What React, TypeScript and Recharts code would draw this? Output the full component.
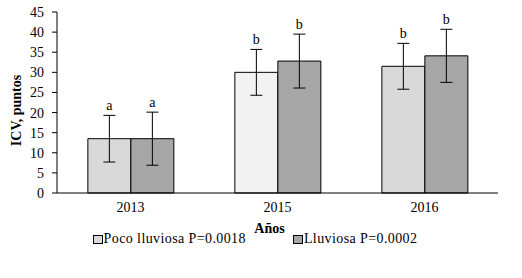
import React from "react";
import {
  BarChart,
  Bar,
  XAxis,
  YAxis,
  ErrorBar,
  Cell,
  LabelList,
  Legend,
  Label,
} from "recharts";

const years = ["2013", "2015", "2016"];
const pocoValues = [13.5, 30.0, 31.5];
const pocoErrors = [5.8, 5.7, 5.7];
const pocoLetters = ["a", "b", "b"];
const pocoFills = ["#D9D9D9", "#F2F2F2", "#D9D9D9"];
const lluviosaValues = [13.5, 32.8, 34.1];
const lluviosaErrors = [6.6, 6.7, 6.6];
const lluviosaLetters = ["a", "b", "b"];
const yTicks = [0, 5, 10, 15, 20, 25, 30, 35, 40, 45];
const edgeTicks = [0, 1, 2, 3];

const font = "'Liberation Serif', 'Times New Roman', serif";

const chartData = years.map((year, i) => ({
  year,
  poco: pocoValues[i],
  pocoErr: pocoErrors[i],
  lluviosa: lluviosaValues[i],
  lluviosaErr: lluviosaErrors[i],
}));

// letter sits just above the error bar cap
const letterLabel = (letters: string[], errors: number[]) => (props: any) => {
  const { x, y, width, height, index, value } = props;
  const pxPerUnit = value ? height / value : 0;
  const top = y - errors[index] * pxPerUnit;
  return (
    <text
      x={x + width / 2}
      y={top - 5}
      textAnchor="middle"
      fontSize={14}
      fontFamily={font}
      fill="#000"
    >
      {letters[index]}
    </text>
  );
};

const legendItems = [
  { label: "Poco lluviosa P=0.0018", fill: "#D9D9D9" },
  { label: "Lluviosa P=0.0002", fill: "#A6A6A6" },
];

const renderLegend = () => (
  <div
    style={{
      display: "flex",
      justifyContent: "center",
      paddingLeft: 12,
      fontFamily: font,
      fontSize: 14,
      letterSpacing: 0.4,
      color: "#000",
      lineHeight: "18px",
    }}
  >
    {legendItems.map((item, i) => (
      <div
        key={item.label}
        style={{
          display: "flex",
          alignItems: "center",
          marginRight: i === 0 ? 47 : 0,
        }}
      >
        <span
          style={{
            display: "inline-block",
            width: 8,
            height: 7,
            border: "1px solid #000",
            background: item.fill,
            marginRight: 1,
          }}
        />
        <span>{item.label}</span>
      </div>
    ))}
  </div>
);

export default function App() {
  return (
    <div style={{ position: "absolute", left: 0, top: 0, background: "#fff" }}>
      <BarChart
        width={522}
        height={278}
        data={chartData}
        margin={{ top: 12, right: 24, left: 0, bottom: 30 }}
        barCategoryGap="21%"
        barGap={0}
        style={{ fontFamily: font }}
      >
        <XAxis
          xAxisId="edge"
          type="number"
          domain={[0, 3]}
          ticks={edgeTicks}
          tick={false}
          height={0}
          stroke="#000"
          axisLine={false}
          tickLine={{ stroke: "#000" }}
          tickSize={5}
        />
        <XAxis
          dataKey="year"
          height={37}
          stroke="#000"
          tickLine={false}
          tickSize={0}
          tickMargin={9}
          axisLine={{ stroke: "#000" }}
          tick={{ fontSize: 14, fill: "#000", fontFamily: font }}
        >
          <Label
            value="Años"
            position="insideBottom"
            offset={-3}
            dx={-8}
            style={{ fontSize: 14, fontWeight: "bold", fill: "#000", fontFamily: font }}
          />
        </XAxis>
        <YAxis
          domain={[0, 45]}
          ticks={yTicks}
          width={57}
          interval={0}
          stroke="#000"
          tickSize={5}
          tickMargin={8}
          axisLine={{ stroke: "#000" }}
          tickLine={{ stroke: "#000" }}
          tick={{ fontSize: 14, fill: "#000", fontFamily: font }}
        >
          <Label
            value="ICV, puntos"
            angle={-90}
            position="insideLeft"
            offset={16}
            dy={8}
            style={{
              fontSize: 14,
              fontWeight: "bold",
              fill: "#000",
              fontFamily: font,
              textAnchor: "middle",
            }}
          />
        </YAxis>
        <Legend verticalAlign="bottom" height={18} content={renderLegend} />
        <Bar
          dataKey="poco"
          name="Poco lluviosa P=0.0018"
          stroke="#000"
          strokeWidth={1}
          isAnimationActive={false}
        >
          {chartData.map((_d, i) => (
            <Cell key={`poco-${i}`} fill={pocoFills[i]} />
          ))}
          <ErrorBar dataKey="pocoErr" width={6} stroke="#000" strokeWidth={1} />
          <LabelList dataKey="poco" content={letterLabel(pocoLetters, pocoErrors)} />
        </Bar>
        <Bar
          dataKey="lluviosa"
          name="Lluviosa P=0.0002"
          fill="#A6A6A6"
          stroke="#000"
          strokeWidth={1}
          isAnimationActive={false}
        >
          <ErrorBar dataKey="lluviosaErr" width={6} stroke="#000" strokeWidth={1} />
          <LabelList
            dataKey="lluviosa"
            content={letterLabel(lluviosaLetters, lluviosaErrors)}
          />
        </Bar>
      </BarChart>
    </div>
  );
}
